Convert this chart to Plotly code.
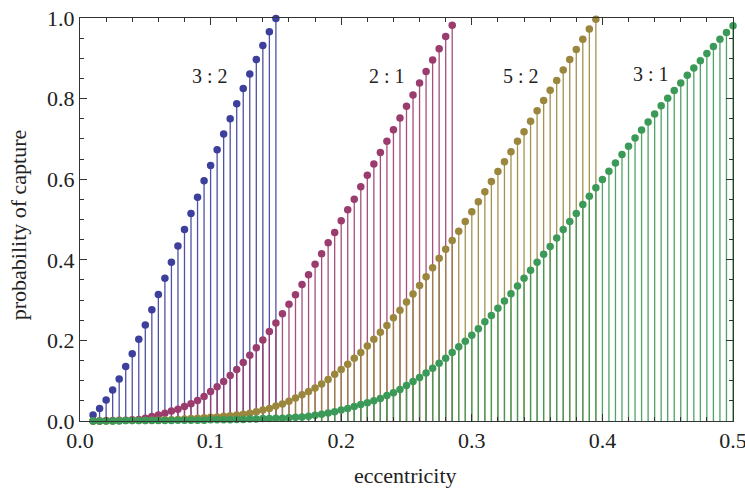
import plotly.graph_objects as go

# eccentricity grid (sampled every 0.005)
ecc_grid = [0.010, 0.015, 0.020, 0.025, 0.030, 0.035, 0.040, 0.045, 0.050,
            0.055, 0.060, 0.065, 0.070, 0.075, 0.080, 0.085, 0.090, 0.095, 0.100,
            0.105, 0.110, 0.115, 0.120, 0.125, 0.130, 0.135, 0.140, 0.145, 0.150,
            0.155, 0.160, 0.165, 0.170, 0.175, 0.180, 0.185, 0.190, 0.195, 0.200,
            0.205, 0.210, 0.215, 0.220, 0.225, 0.230, 0.235, 0.240, 0.245, 0.250,
            0.255, 0.260, 0.265, 0.270, 0.275, 0.280, 0.285, 0.290, 0.295, 0.300,
            0.305, 0.310, 0.315, 0.320, 0.325, 0.330, 0.335, 0.340, 0.345, 0.350,
            0.355, 0.360, 0.365, 0.370, 0.375, 0.380, 0.385, 0.390, 0.395, 0.400,
            0.405, 0.410, 0.415, 0.420, 0.425, 0.430, 0.435, 0.440, 0.445, 0.450,
            0.455, 0.460, 0.465, 0.470, 0.475, 0.480, 0.485, 0.490, 0.495, 0.500]

p_32 = [0.015, 0.031, 0.052, 0.077, 0.104, 0.135, 0.167, 0.203, 0.238,
        0.276, 0.314, 0.354, 0.394, 0.434, 0.475, 0.515, 0.555, 0.596, 0.634,
        0.673, 0.712, 0.750, 0.787, 0.825, 0.861, 0.897, 0.932, 0.966, 0.999]

p_21 = [0.000, 0.000, 0.001, 0.001, 0.002, 0.002, 0.003, 0.004, 0.007,
        0.011, 0.015, 0.019, 0.025, 0.029, 0.036, 0.043, 0.051, 0.061, 0.073,
        0.085, 0.098, 0.113, 0.128, 0.145, 0.163, 0.182, 0.201, 0.222, 0.243,
        0.266, 0.290, 0.313, 0.339, 0.363, 0.389, 0.415, 0.442, 0.468, 0.497,
        0.524, 0.550, 0.581, 0.610, 0.638, 0.666, 0.694, 0.723, 0.752, 0.781,
        0.809, 0.839, 0.867, 0.896, 0.924, 0.954, 0.982]

p_52 = [0.000, 0.000, 0.000, 0.000, 0.001, 0.001, 0.001, 0.001, 0.001,
        0.002, 0.002, 0.003, 0.003, 0.004, 0.005, 0.006, 0.007, 0.008, 0.009,
        0.010, 0.012, 0.013, 0.015, 0.017, 0.019, 0.023, 0.027, 0.031, 0.037,
        0.042, 0.049, 0.057, 0.065, 0.073, 0.082, 0.092, 0.103, 0.116, 0.128,
        0.141, 0.156, 0.170, 0.186, 0.203, 0.220, 0.237, 0.256, 0.275, 0.295,
        0.315, 0.336, 0.358, 0.380, 0.404, 0.426, 0.448, 0.471, 0.495, 0.519,
        0.544, 0.569, 0.594, 0.619, 0.643, 0.668, 0.694, 0.718, 0.744, 0.770,
        0.795, 0.821, 0.845, 0.871, 0.897, 0.922, 0.947, 0.973, 0.997]

p_31 = [0.000, 0.000, 0.000, 0.000, 0.000, 0.001, 0.001, 0.001, 0.001,
        0.001, 0.001, 0.001, 0.001, 0.002, 0.002, 0.002, 0.002, 0.002, 0.003,
        0.003, 0.003, 0.003, 0.004, 0.004, 0.005, 0.005, 0.006, 0.006, 0.007,
        0.007, 0.008, 0.009, 0.010, 0.012, 0.014, 0.017, 0.020, 0.023, 0.027,
        0.031, 0.036, 0.041, 0.045, 0.050, 0.056, 0.063, 0.070, 0.078, 0.088,
        0.098, 0.108, 0.119, 0.131, 0.143, 0.156, 0.170, 0.184, 0.198, 0.213,
        0.229, 0.246, 0.262, 0.280, 0.298, 0.316, 0.335, 0.354, 0.374, 0.394,
        0.414, 0.433, 0.454, 0.475, 0.495, 0.515, 0.537, 0.558, 0.579, 0.599,
        0.620, 0.640, 0.661, 0.682, 0.702, 0.722, 0.742, 0.762, 0.782, 0.801,
        0.820, 0.839, 0.858, 0.876, 0.894, 0.912, 0.929, 0.947, 0.964, 0.981]

series_labels = ["3 : 2", "2 : 1", "5 : 2", "3 : 1"]
series_values = [p_32, p_21, p_52, p_31]
series_colors = ["#3c3f9b", "#9b3c6e", "#9a863c", "#3b9a57"]
label_pos = [(0.0995, 0.855), (0.235, 0.855), (0.338, 0.855), (0.437, 0.86)]

FONT = "Liberation Serif"
fig = go.Figure()

for vals, col in zip(series_values, series_colors):
    xs = ecc_grid[:len(vals)]
    sx, sy = [], []
    for x, y in zip(xs, vals):
        sx += [x, x, None]
        sy += [0, y, None]
    fig.add_trace(go.Scatter(x=sx, y=sy, mode="lines",
                             line=dict(color=col, width=1.3),
                             opacity=0.9, hoverinfo="skip",
                             showlegend=False, cliponaxis=False))

for vals, col in zip(series_values, series_colors):
    xs = ecc_grid[:len(vals)]
    fig.add_trace(go.Scatter(x=xs, y=vals, mode="markers",
                             marker=dict(color=col, size=7.5, line=dict(width=0)),
                             showlegend=False, cliponaxis=False))

annotations = []
for lab, (lx, ly) in zip(series_labels, label_pos):
    annotations.append(dict(x=lx, y=ly, xref="x", yref="y", text=lab,
                            showarrow=False, font=dict(family=FONT, size=20, color="#222")))
annotations.append(dict(x=0.498, y=-0.134, xref="paper", yref="paper", text="eccentricity",
                        showarrow=False, yanchor="middle",
                        font=dict(family=FONT, size=22, color="#222")))
annotations.append(dict(x=-0.095, y=0.488, xref="paper", yref="paper",
                        text="probability of capture", textangle=-90,
                        showarrow=False, xanchor="center", yanchor="middle",
                        font=dict(family=FONT, size=22, color="#222")))

axis_common = dict(showgrid=False, zeroline=False, showline=True, linecolor="#333",
                   linewidth=1, mirror="ticks", ticks="inside", ticklen=7,
                   tickcolor="#333", tickwidth=1, tickformat=".1f", automargin=False,
                   ticklabeloverflow="allow",
                   tickfont=dict(family=FONT, size=22, color="#222"))

fig.update_layout(
    width=745, height=488,
    margin=dict(l=80, r=12, t=18, b=67),
    plot_bgcolor="white", paper_bgcolor="white",
    font=dict(family=FONT),
    xaxis=dict(range=[0, 0.5], dtick=0.1, tick0=0,
               minor=dict(dtick=0.02, ticklen=4, ticks="inside", tickcolor="#333"),
               **axis_common),
    yaxis=dict(range=[0, 1.0], dtick=0.2, tick0=0,
               minor=dict(dtick=0.05, ticklen=4, ticks="inside", tickcolor="#333"),
               **axis_common),
    annotations=annotations,
)

fig.write_html("out.html")
